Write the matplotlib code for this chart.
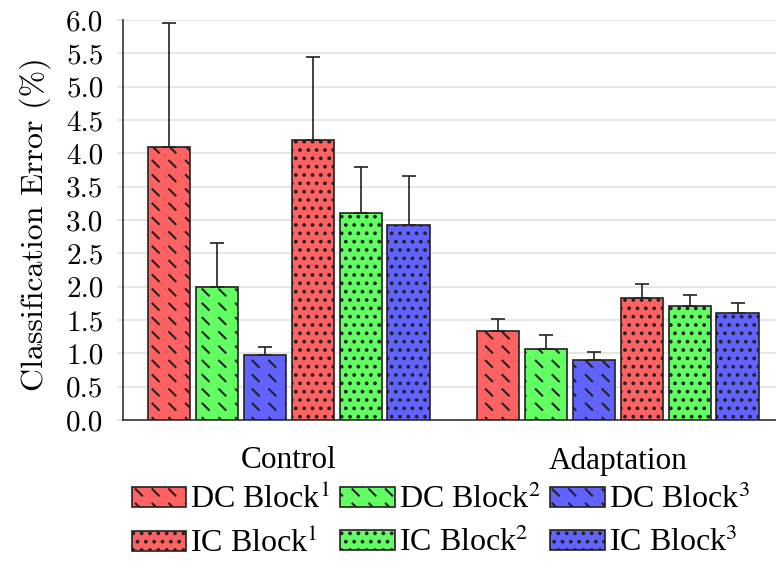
import warnings
import numpy as np
import matplotlib
matplotlib.use("Agg")
import matplotlib.pyplot as plt
from matplotlib import hatch as mhatch
from matplotlib.path import Path
from matplotlib.ticker import StrMethodFormatter

warnings.filterwarnings("ignore")

# data
groups = ["Control", "Adaptation"]
series = ["DC Block$^1$", "DC Block$^2$", "DC Block$^3$",
          "IC Block$^1$", "IC Block$^2$", "IC Block$^3$"]
means = [
    [4.09, 1.34],
    [2.00, 1.07],
    [0.97, 0.90],
    [4.20, 1.83],
    [3.11, 1.71],
    [2.93, 1.61],
]
upper_err = [
    [1.86, 0.18],
    [0.66, 0.21],
    [0.13, 0.12],
    [1.25, 0.21],
    [0.69, 0.17],
    [0.73, 0.15],
]

colors = ["#ff6262", "#62ff62", "#6262ff"] * 2
hatches = ["d"] * 3 + [".."] * 3


# short diagonal dashes laid out on a grid ('d' in the hatch string)
class ShortDashes(mhatch.HatchPatternBase):
    def __init__(self, hatch, density):
        k = hatch.count("d")
        self.nx = 6 * k
        self.ny = 7 * k
        self.num_vertices = self.nx * self.ny * 2

    def set_vertices_and_codes(self, vertices, codes):
        cx = 1.0 / self.nx
        cy = 1.0 / self.ny
        k = 0
        for i in range(self.nx):
            for j in range(self.ny):
                x0, y0 = i * cx, j * cy
                vertices[k] = (x0 + 0.15 * cx, y0 + 0.75 * cy)
                vertices[k + 1] = (x0 + 0.53 * cx, y0 + 0.31 * cy)
                codes[k] = Path.MOVETO
                codes[k + 1] = Path.LINETO
                k += 2


mhatch._hatch_types.append(ShortDashes)

plt.rcParams["mathtext.fontset"] = "stix"
plt.rcParams["hatch.linewidth"] = 1.5
plt.rcParams["hatch.color"] = "black"

fig = plt.figure(figsize=(7.76, 5.62), dpi=100)
ax = fig.add_axes([0.1585, 0.2527, 0.8415, 0.7117])

x = np.arange(len(groups))
step = 0.1456
width = 0.128
handles = []
for i, name in enumerate(series):
    pos = x + (i - 2.5) * step
    b = ax.bar(pos, means[i], width, color=colors[i], edgecolor="#222222",
               linewidth=1.2, hatch=hatches[i], label=name, zorder=3)
    ax.errorbar(pos, means[i], yerr=[np.zeros(len(groups)), upper_err[i]],
                fmt="none", ecolor="#222222", elinewidth=1.2, capsize=5,
                capthick=1.2, zorder=4)
    handles.append(b)

ax.set_xlim(-0.504, 1.481)
ax.set_ylim(0, 6.0)
ax.set_yticks(np.arange(0, 6.01, 0.5))
ax.yaxis.set_major_formatter(StrMethodFormatter("{x:.1f}"))
ax.grid(axis="y", color="#e2e2e2", linewidth=1.2, zorder=0)
ax.set_axisbelow(True)

for s in ["top", "right"]:
    ax.spines[s].set_visible(False)
for s in ["left", "bottom"]:
    ax.spines[s].set_color("#333333")
    ax.spines[s].set_linewidth(1.2)

ax.set_xticks(x)
ax.set_xticklabels(groups, family="Liberation Serif", fontsize=22.5)
ax.tick_params(axis="x", length=0, pad=19)
ax.tick_params(axis="y", length=4, color="#e2e2e2", width=1.2, pad=10)
for lab in ax.get_yticklabels():
    lab.set_family("cmr10")
    lab.set_fontsize(21)

ax.set_ylabel("Classification Error (%)", family="cmr10", fontsize=23)
ax.yaxis.set_label_coords(-0.11, 0.49)

# legend: DC row on top, IC row below
order = [0, 3, 1, 4, 2, 5]
leg = fig.legend([handles[k] for k in order], [series[k] for k in order],
                 loc="upper center", bbox_to_anchor=(0.568, 0.162),
                 ncol=3, frameon=False, prop={"family": "Liberation Serif", "size": 23},
                 handlelength=1.72, handleheight=0.6, handletextpad=0.12,
                 columnspacing=0.3, labelspacing=0.4, borderaxespad=0)

fig.savefig("out.png", dpi=100)
